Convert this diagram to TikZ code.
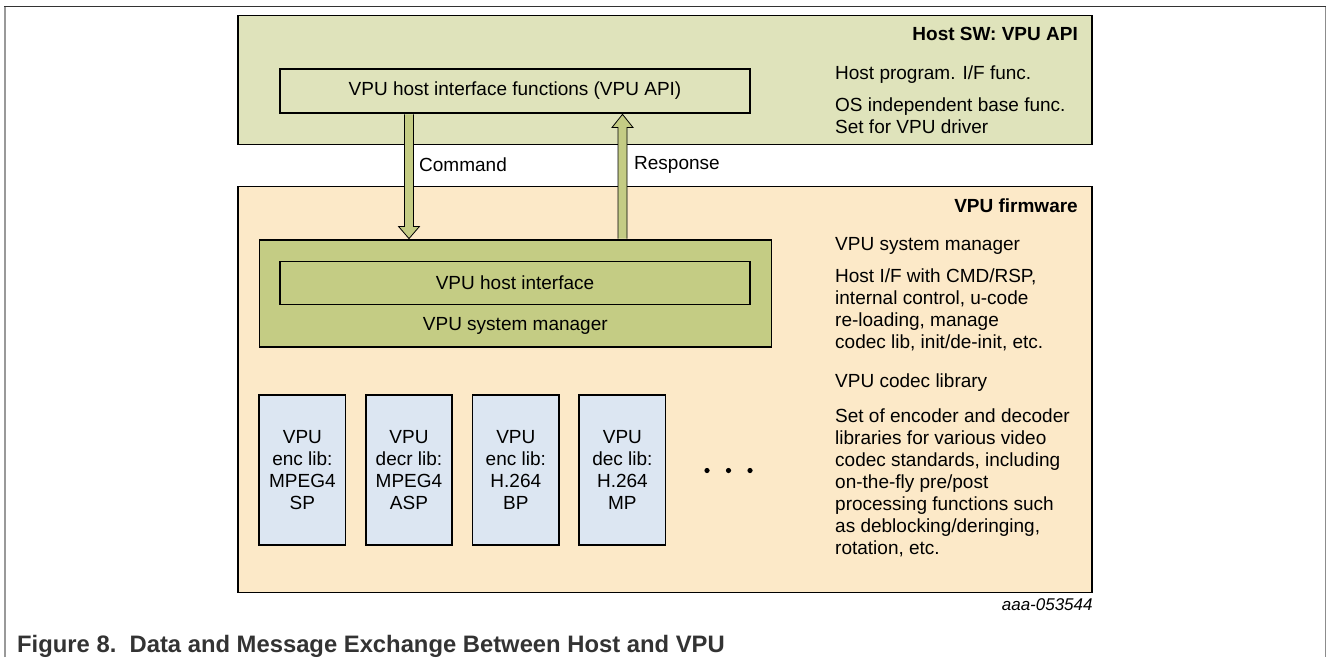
\documentclass[tikz,border=0pt]{standalone}
\usepackage{fontspec}
\setmainfont{Liberation Sans}
\usepackage{xcolor}
\usepackage{tikz}
\usetikzlibrary{positioning}

\definecolor{hostgreen}{RGB}{223,227,187}
\definecolor{mgrolive}{RGB}{196,204,132}
\definecolor{fwpeach}{RGB}{252,233,200}
\definecolor{libblue}{RGB}{220,230,242}

\begin{document}
\begin{tikzpicture}[x=1pt,y=-1pt,
    font=\fontsize{19}{22}\selectfont,
    box/.style={rectangle, draw, line width=1.6pt, inner sep=0pt},
    sidetxt/.style={anchor=north west, align=left, inner sep=0pt},
    bigarrow/.style={draw, line width=0.8pt, fill=mgrolive, line join=miter}]

    \useasboundingbox (0,0) rectangle (1328,657);

    % page frame
    \draw[black!40, line width=1.3pt] (5,657) -- (5,6.3);
    \draw[black!45, line width=1.3pt] (1325.5,6.3) -- (1325.5,657);
    \draw[black!80, line width=1.3pt] (4.4,6.3) -- (1326.1,6.3);

    % host side
    \node[box,
          fill = hostgreen,
          minimum width = 854pt,
          minimum height = 129pt
          ] (host) at (665,80) {};
    \node[anchor=east, inner sep=0pt, font=\fontsize{19}{22}\selectfont\bfseries]
          (hosttitle) at (1078,34.4) {Host SW: VPU API};

    \node[box,
          fill = hostgreen,
          minimum width = 470pt,
          minimum height = 44pt
          ] (api) at (515,90.7) {};
    \node[] at (api.center) {VPU host interface functions (VPU API)};

    \node[sidetxt] (hostprog) at (835,65.7) {Host program. I/F func.};
    \node[sidetxt] (hostbase) at (835,97.6) {OS independent base func.\\Set for VPU driver};

    % firmware side
    \node[box,
          fill = fwpeach,
          minimum width = 854pt,
          minimum height = 406pt
          ] (fw) at (665,389.5) {};
    \node[anchor=east, inner sep=0pt, font=\fontsize{19}{22}\selectfont\bfseries]
          (fwtitle) at (1078,205.7) {VPU firmware};

    \node[box,
          fill = mgrolive,
          minimum width = 512pt,
          minimum height = 107pt
          ] (mgr) at (515.3,293.7) {};
    \node[] (mgrlabel) at ([yshift=22pt]mgr.south) {VPU system manager};

    \node[box,
          fill = mgrolive,
          minimum width = 470pt,
          minimum height = 43pt
          ] (hif) at (515,283) {};
    \node[] at (hif.center) {VPU host interface};

    \node[sidetxt] (fwmgr) at (835,237) {VPU system manager};
    \node[sidetxt] (fwmgrdesc) at (835,268.5) {Host I/F with CMD/RSP,\\internal control, u-code\\re-loading, manage\\codec lib, init/de-init, etc.};
    \node[sidetxt] (fwlib) at (835,374) {VPU codec library};
    \node[sidetxt] (fwlibdesc) at (835,408.6) {Set of encoder and decoder\\libraries for various video\\codec standards, including\\on-the-fly pre/post\\processing functions such\\as deblocking/deringing,\\rotation, etc.};

    % codec libraries
    \node[box,
          fill = libblue,
          minimum width = 86.5pt,
          minimum height = 150pt
          ] (encmp4) at (302.4,470) {};
    \node[align=center] at (encmp4.center) {VPU\\enc lib:\\MPEG4\\SP};

    \node[box,
          fill = libblue,
          minimum width = 86.5pt,
          minimum height = 150pt
          ] (decmp4) at (409,470) {};
    \node[align=center] at (decmp4.center) {VPU\\decr lib:\\MPEG4\\ASP};

    \node[box,
          fill = libblue,
          minimum width = 86.5pt,
          minimum height = 150pt
          ] (encavc) at (515.8,470) {};
    \node[align=center] at (encavc.center) {VPU\\enc lib:\\H.264\\BP};

    \node[box,
          fill = libblue,
          minimum width = 86.5pt,
          minimum height = 150pt
          ] (decavc) at (622.4,470) {};
    \node[align=center] at (decavc.center) {VPU\\dec lib:\\H.264\\MP};

    \fill (707,470.5) circle (2.6pt) (728.5,470.5) circle (2.6pt) (750,470.5) circle (2.6pt);

    % command / response
    \coordinate (cmd) at (409,0);
    \coordinate (rsp) at (622.5,0);

    \draw[bigarrow] ([xshift=-4.5pt,yshift=-0.8pt]cmd |- api.south)
        -- ([xshift=-4.5pt,yshift=13pt]cmd |- mgr.north)
        -- ([xshift=-10.5pt,yshift=13pt]cmd |- mgr.north)
        -- ([yshift=0.8pt]cmd |- mgr.north)
        -- ([xshift=10.5pt,yshift=13pt]cmd |- mgr.north)
        -- ([xshift=4.5pt,yshift=13pt]cmd |- mgr.north)
        -- ([xshift=4.5pt,yshift=-0.8pt]cmd |- api.south);

    \draw[bigarrow] ([xshift=-4.5pt,yshift=0.8pt]rsp |- mgr.north)
        -- ([xshift=-4.5pt,yshift=-14pt]rsp |- api.south)
        -- ([xshift=-10.5pt,yshift=-14pt]rsp |- api.south)
        -- ([yshift=-0.8pt]rsp |- api.south)
        -- ([xshift=10.5pt,yshift=-14pt]rsp |- api.south)
        -- ([xshift=4.5pt,yshift=-14pt]rsp |- api.south)
        -- ([xshift=4.5pt,yshift=0.8pt]rsp |- mgr.north);

    \node[anchor=west, inner sep=0pt] (cmdlabel) at (419,164.7) {Command};
    \node[anchor=west, inner sep=0pt] (rsplabel) at (634,164.7) {Response};

    % id and caption
    \node[anchor=east, inner sep=0pt, font=\fontsize{17}{20}\selectfont\itshape]
          (docid) at ([yshift=-11pt]fw.south east) {aaa-053544};
    \node[anchor=west, inner sep=0pt, text=black!80, font=\fontsize{23.8}{28}\selectfont\bfseries]
          (caption) at (17,646.5) {Figure 8.\ \ Data and Message Exchange Between Host and VPU};

\end{tikzpicture}
\end{document}
